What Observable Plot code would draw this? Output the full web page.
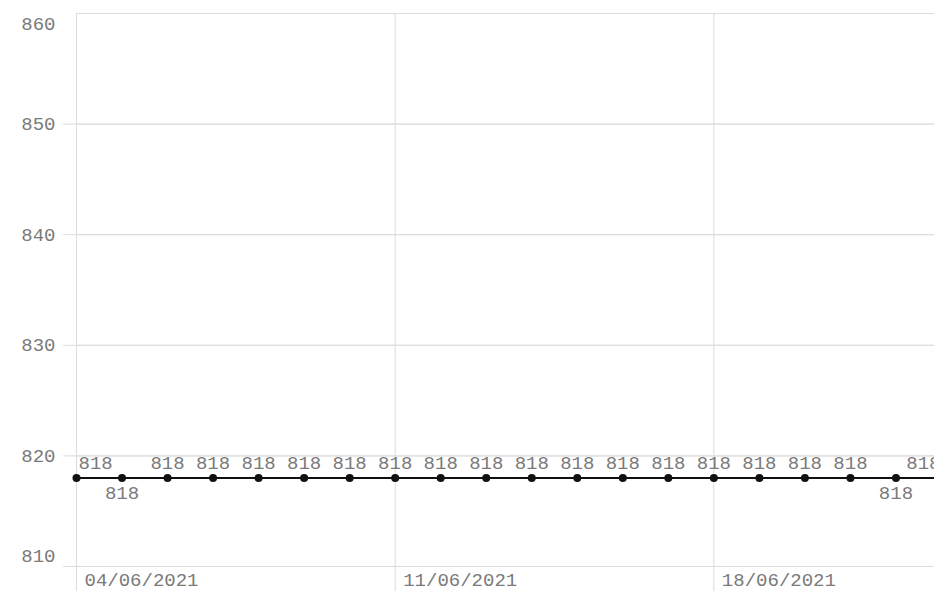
<!DOCTYPE html>
<html>
<head>
<meta charset="utf-8">
<script src="https://cdn.jsdelivr.net/npm/d3@7"></script>
<script src="https://cdn.jsdelivr.net/npm/@observablehq/plot@0.6"></script>
<style>
  html, body { margin: 0; padding: 0; background: #fff; overflow: hidden; }
  #chart { width: 934px; height: 591px; overflow: hidden; }
  #chart svg { max-width: none !important; }
</style>
</head>
<body>
<div id="chart"></div>
<script>
// Data
const dates = [
  "2021-06-04","2021-06-05","2021-06-06","2021-06-07","2021-06-08",
  "2021-06-09","2021-06-10","2021-06-11","2021-06-12","2021-06-13",
  "2021-06-14","2021-06-15","2021-06-16","2021-06-17","2021-06-18",
  "2021-06-19","2021-06-20","2021-06-21","2021-06-22","2021-06-23"
];
const values = [818,818,818,818,818,818,818,818,818,818,818,818,818,818,818,818,818,818,818,818];
const xTicks = ["2021-06-04","2021-06-11","2021-06-18"];
const yTicks = [810, 820, 830, 840, 850, 860];

const parse = d3.utcParse("%Y-%m-%d");
const data = dates.map((d, i) => ({date: parse(d), value: values[i], i}));
const n = data.length;
const xt = xTicks.map(parse);
const fmt = d3.utcFormat("%d/%m/%Y");

const font = "Liberation Mono, monospace";
const grey = "#7a7a7a";
const gridC = "#dcdcdc";

// label placement: first/last anchored inside, second and second-to-last flipped below
const below = data.filter(d => d.i === 1 || d.i === n - 2);
const above = data.filter(d => d.i > 1 && d.i < n - 2);
const first = data.filter(d => d.i === 0);
const last = data.filter(d => d.i === n - 1);

const axisOpts = {tickSize: 0, tickPadding: 21, fill: grey, fontFamily: font, fontSize: 19, label: null};

const chart = Plot.plot({
  width: 950,
  height: 591,
  marginLeft: 76,
  marginRight: 9,
  marginTop: 13,
  marginBottom: 25,
  style: {fontFamily: font, fontSize: "19px", color: grey, background: "#fff", overflow: "visible", maxWidth: "none"},
  x: {type: "utc", domain: [data[0].date, data[n - 1].date], label: null},
  y: {domain: [810, 860], label: null},
  marks: [
    Plot.gridY(yTicks, {stroke: gridC, strokeOpacity: 1, strokeWidth: 1}),
    Plot.tickY(yTicks.slice(0, -1), {stroke: gridC, x: null, insetLeft: -13, insetRight: 0, frameAnchor: "left"}),
    Plot.ruleX(xt, {stroke: gridC, strokeWidth: 1, insetBottom: -25}),
    Plot.axisY(yTicks.slice(1, -1), axisOpts),
    Plot.axisY([810], {...axisOpts, dy: -11}),
    Plot.axisY([860], {...axisOpts, dy: 10}),
    Plot.axisX(xt, {tickSize: 0, tickPadding: 0, textAnchor: "start", dx: 8, dy: 6, tickFormat: fmt, fill: grey, fontFamily: font, fontSize: 19, label: null}),
    Plot.ruleY([810], {stroke: gridC, insetLeft: -13}),
    Plot.lineY(data, {x: "date", y: "value", stroke: "#111", strokeWidth: 2.2}),
    Plot.dot(data, {x: "date", y: "value", r: 4, fill: "#111", stroke: null}),
    Plot.text(above, {x: "date", y: "value", text: d => String(d.value), dy: -15, fill: grey, fontFamily: font, fontSize: 19}),
    Plot.text(below, {x: "date", y: "value", text: d => String(d.value), dy: 15, fill: grey, fontFamily: font, fontSize: 19}),
    Plot.text(first, {x: "date", y: "value", text: d => String(d.value), dy: -15, dx: 2, textAnchor: "start", fill: grey, fontFamily: font, fontSize: 19}),
    Plot.text(last, {x: "date", y: "value", text: d => String(d.value), dy: -15, dx: -1, textAnchor: "end", fill: grey, fontFamily: font, fontSize: 19})
  ]
});
chart.style.maxWidth = "none";
document.getElementById("chart").appendChild(chart);
</script>
</body>
</html>
